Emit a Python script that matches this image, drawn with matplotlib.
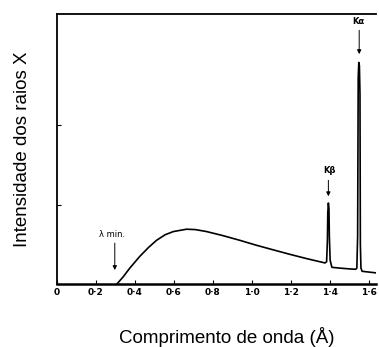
import matplotlib
matplotlib.use("Agg")
import matplotlib.pyplot as plt

# wavelength (Angstrom) and X-ray intensity (arbitrary units)
wavelength = [0.308, 0.34, 0.374, 0.426, 0.47, 0.511, 0.555, 0.597, 0.665, 0.71, 0.768,
              0.85, 0.938, 1.02, 1.109, 1.2, 1.28, 1.34, 1.375, 1.383, 1.387, 1.389,
              1.392, 1.395, 1.397, 1.401, 1.41, 1.45, 1.5, 1.532, 1.538, 1.542, 1.545,
              1.548, 1.551, 1.554, 1.556, 1.559, 1.565, 1.6, 1.636]
intensity = [0.0, 0.09, 0.20, 0.35, 0.46, 0.55, 0.62, 0.66, 0.69, 0.685, 0.66,
             0.61, 0.55, 0.49, 0.43, 0.37, 0.32, 0.285, 0.265, 0.28, 0.55, 0.9,
             1.02, 0.95, 0.6, 0.3, 0.21, 0.2, 0.19, 0.185, 0.2, 0.6, 2.6,
             2.79, 2.75, 2.4, 0.5, 0.2, 0.16, 0.15, 0.14]

xticks = [0, 0.2, 0.4, 0.6, 0.8, 1.0, 1.2, 1.4, 1.6]
xticklabels = ["0", "0·2", "0·4", "0·6", "0·8", "1·0", "1·2", "1·4", "1·6"]
yticks = [1, 2]

plt.rcParams['font.family'] = ['Liberation Sans', 'DejaVu Sans']

fig = plt.figure(figsize=(3.79, 3.47), dpi=100)
ax = fig.add_axes([0.150, 0.1816, 0.842, 0.778])

ax.plot(wavelength, intensity, color="black", lw=1.2)

ax.set_xlim(0, 1.636)
ax.set_ylim(0, 3.4)
ax.set_xticks(xticks)
ax.set_xticklabels(xticklabels, fontsize=6.5, fontweight="bold", family="DejaVu Sans")
ax.set_yticks(yticks)
ax.set_yticklabels([])
ax.tick_params(axis="both", direction="in", length=3, width=0.8, pad=3)

ax.spines["right"].set_visible(False)
ax.spines["bottom"].set_linewidth(1.8)
ax.spines["left"].set_linewidth(1.3)
ax.spines["top"].set_linewidth(1.3)

ax.set_ylabel("Intensidade dos raios X", fontsize=13.5)
ax.yaxis.set_label_coords(-0.08, 0.5)
ax.set_xlabel("Comprimento de onda (Å)", fontsize=13.5)
ax.xaxis.set_label_coords(0.533, -0.158)

arrow = dict(arrowstyle="-|>", color="black", lw=0.7, mutation_scale=6)

# lambda min
ax.text(0.282, 0.62, "λ min.", fontsize=6, ha="center", va="center", family="DejaVu Sans")
ax.annotate("", xy=(0.297, 0.14), xytext=(0.297, 0.55), arrowprops=arrow)

# K beta
ax.text(1.395, 1.43, "Kβ", fontsize=6, ha="center", va="center", family="DejaVu Sans",
        fontweight="bold")
ax.annotate("", xy=(1.392, 1.07), xytext=(1.392, 1.34), arrowprops=arrow)

# K alpha
ax.text(1.548, 3.31, "Kα", fontsize=6, ha="center", va="center", family="DejaVu Sans",
        fontweight="bold")
ax.annotate("", xy=(1.550, 2.86), xytext=(1.550, 3.23), arrowprops=arrow)

fig.savefig("out.png", dpi=100)
